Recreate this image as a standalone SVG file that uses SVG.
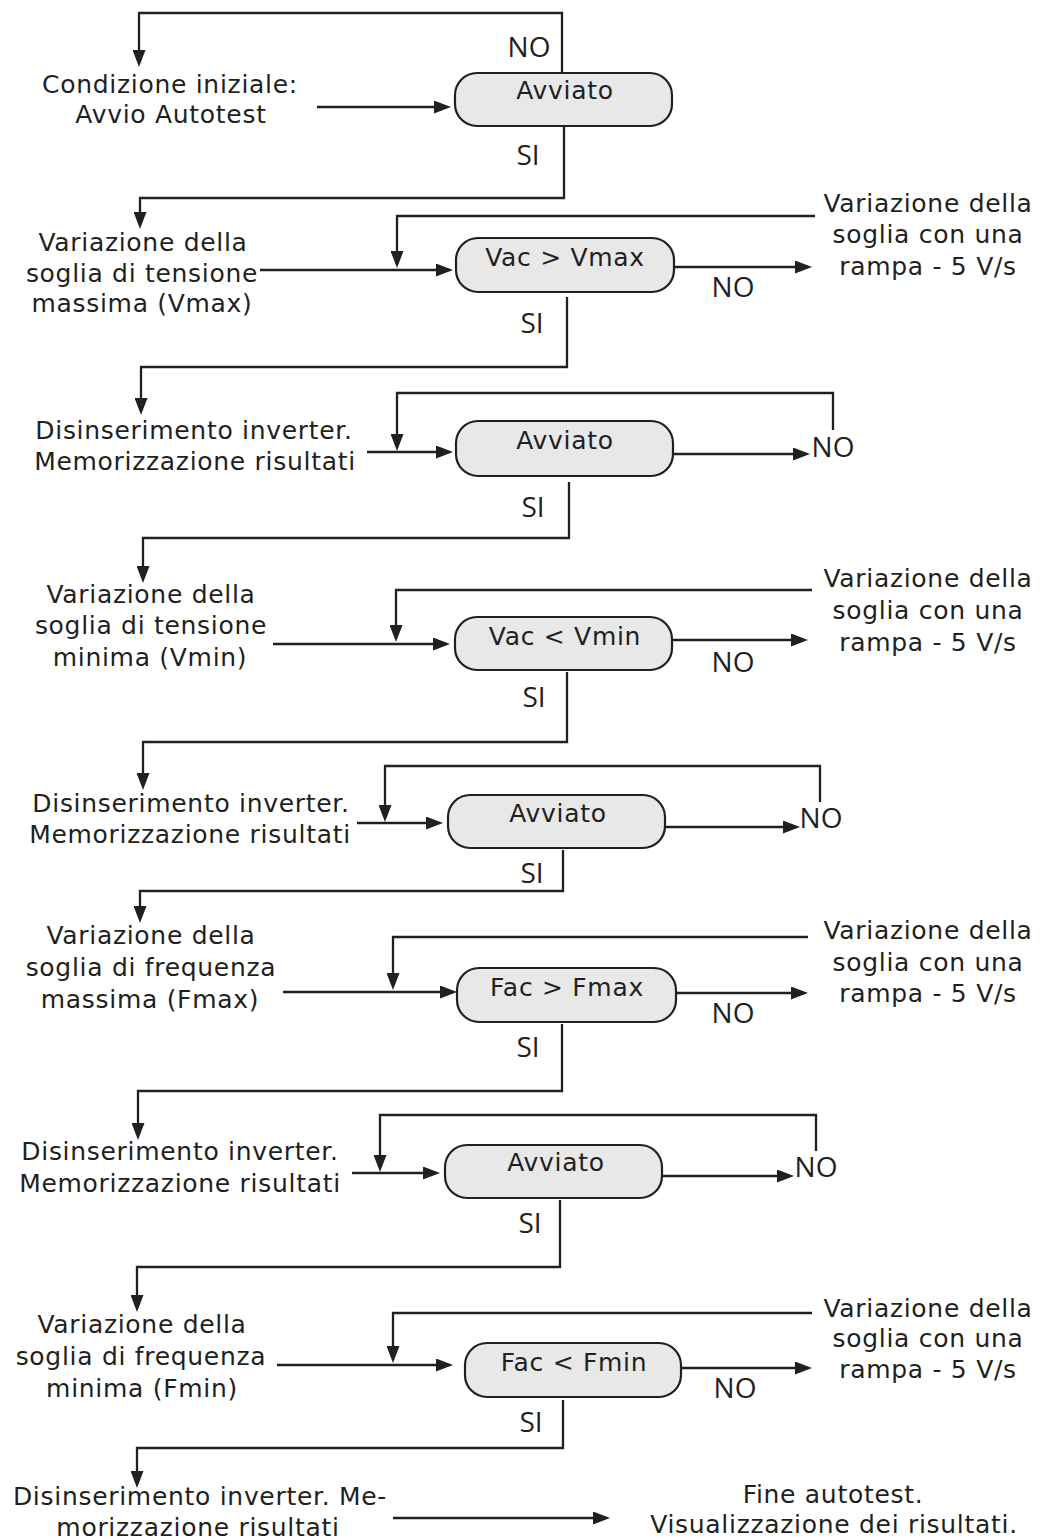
<svg xmlns="http://www.w3.org/2000/svg" width="1042" height="1539" viewBox="0 0 1042 1539">
<style>
.bg{fill:#ffffff}
.t{font-family:"DejaVu Sans","Liberation Sans",sans-serif;font-size:25px;letter-spacing:0.7px;fill:#231f20;text-anchor:middle}
.l{font-family:"Open Sans","Noto Sans","Liberation Sans",sans-serif;font-size:28px;fill:#231f20;text-anchor:middle}
.box{fill:#e8e8e8;stroke:#231f20;stroke-width:2.2}
.c{fill:none;stroke:#231f20;stroke-width:2.3;stroke-linejoin:miter}
.a{marker-end:url(#ah)}
</style>
<defs>
<marker id="ah" markerUnits="userSpaceOnUse" markerWidth="17" markerHeight="13" viewBox="0 0 17 13" refX="13" refY="6.5" orient="auto">
<path d="M0,0 L17,6.5 L0,13 z" fill="#231f20"/>
</marker>
</defs>
<rect class="bg" x="0" y="0" width="1042" height="1539"/>

<g id="connectors">
<!-- section 1 -->
<path class="c a" d="M562,73 V13 H139 V63"/>
<path class="c a" d="M317,107 H447"/>
<path class="c a" d="M564,126 V198 H140 V225"/>
<!-- section 2 -->
<path class="c a" d="M260,270 H449"/>
<path class="c a" d="M815,216 H397 V264"/>
<path class="c a" d="M674,267 H808"/>
<path class="c a" d="M567,297 V367 H141 V411"/>
<!-- section 3 -->
<path class="c a" d="M367,452 H449"/>
<path class="c a" d="M833,430 V393 H397 V447"/>
<path class="c a" d="M673,454 H806"/>
<path class="c a" d="M569,482 V538 H143 V579"/>
<!-- section 4 -->
<path class="c a" d="M273,644 H446"/>
<path class="c a" d="M812,590 H396 V638"/>
<path class="c a" d="M672,640 H804"/>
<path class="c a" d="M567,672 V742 H143 V786"/>
<!-- section 5 -->
<path class="c a" d="M357,823 H439"/>
<path class="c a" d="M820,802 V766 H385 V818"/>
<path class="c a" d="M665,827 H796"/>
<path class="c a" d="M563,850 V891 H140 V919"/>
<!-- section 6 -->
<path class="c a" d="M283,992 H453"/>
<path class="c a" d="M808,937 H393 V986"/>
<path class="c a" d="M676,993 H804"/>
<path class="c a" d="M562,1024 V1091 H138 V1136"/>
<!-- section 7 -->
<path class="c a" d="M352,1173 H436"/>
<path class="c a" d="M816,1151 V1115 H380 V1168"/>
<path class="c a" d="M662,1176 H790"/>
<path class="c a" d="M560,1200 V1267 H137 V1308"/>
<!-- section 8 -->
<path class="c a" d="M277,1365 H449"/>
<path class="c a" d="M812,1313 H393 V1359"/>
<path class="c a" d="M681,1368 H808"/>
<path class="c a" d="M563,1400 V1448 H137 V1484"/>
<!-- section 9 -->
<path class="c a" d="M393,1518 H606"/>
</g>

<g id="labels">
<text class="l" x="529" y="57">NO</text>
<text class="l" x="528" y="165">SI</text>
<text class="l" x="733" y="297">NO</text>
<text class="l" x="532" y="333">SI</text>
<text class="l" x="833" y="457">NO</text>
<text class="l" x="533" y="517">SI</text>
<text class="l" x="733" y="672">NO</text>
<text class="l" x="534" y="707">SI</text>
<text class="l" x="821" y="828">NO</text>
<text class="l" x="532" y="883">SI</text>
<text class="l" x="733" y="1023">NO</text>
<text class="l" x="528" y="1057">SI</text>
<text class="l" x="816" y="1177">NO</text>
<text class="l" x="530" y="1233">SI</text>
<text class="l" x="735" y="1398">NO</text>
<text class="l" x="531" y="1432">SI</text>
</g>

<g id="start">
<text class="t" x="170" y="93">Condizione iniziale:</text>
<text class="t" x="171" y="123">Avvio Autotest</text>
</g>
<g id="check1">
<rect class="box" x="455" y="73" width="217" height="53" rx="22" ry="22"/>
<text class="t" x="565" y="99">Avviato</text>
</g>

<g id="step-vmax">
<text class="t" x="143" y="251">Variazione della</text>
<text class="t" x="142" y="282">soglia di tensione</text>
<text class="t" x="142" y="312">massima (Vmax)</text>
</g>
<g id="check-vmax">
<rect class="box" x="456" y="238" width="218" height="54" rx="22" ry="22"/>
<text class="t" x="565" y="266">Vac &gt; Vmax</text>
</g>
<g id="ramp1">
<text class="t" x="928" y="212">Variazione della</text>
<text class="t" x="928" y="243">soglia con una</text>
<text class="t" x="928" y="275">rampa - 5 V/s</text>
</g>

<g id="disc1">
<text class="t" x="194" y="439">Disinserimento inverter.</text>
<text class="t" x="195" y="470">Memorizzazione risultati</text>
</g>
<g id="check2">
<rect class="box" x="456" y="421" width="217" height="55" rx="22" ry="22"/>
<text class="t" x="565" y="449">Avviato</text>
</g>

<g id="step-vmin">
<text class="t" x="151" y="603">Variazione della</text>
<text class="t" x="151" y="634">soglia di tensione</text>
<text class="t" x="150" y="666">minima (Vmin)</text>
</g>
<g id="check-vmin">
<rect class="box" x="455" y="617" width="217" height="53" rx="22" ry="22"/>
<text class="t" x="565" y="645">Vac &lt; Vmin</text>
</g>
<g id="ramp2">
<text class="t" x="928" y="587">Variazione della</text>
<text class="t" x="928" y="619">soglia con una</text>
<text class="t" x="928" y="651">rampa - 5 V/s</text>
</g>

<g id="disc2">
<text class="t" x="191" y="812">Disinserimento inverter.</text>
<text class="t" x="190" y="843">Memorizzazione risultati</text>
</g>
<g id="check3">
<rect class="box" x="448" y="795" width="217" height="53" rx="22" ry="22"/>
<text class="t" x="558" y="822">Avviato</text>
</g>

<g id="step-fmax">
<text class="t" x="151" y="944">Variazione della</text>
<text class="t" x="151" y="976">soglia di frequenza</text>
<text class="t" x="150" y="1008">massima (Fmax)</text>
</g>
<g id="check-fmax">
<rect class="box" x="457" y="968" width="219" height="54" rx="22" ry="22"/>
<text class="t" x="567" y="996">Fac &gt; Fmax</text>
</g>
<g id="ramp3">
<text class="t" x="928" y="939">Variazione della</text>
<text class="t" x="928" y="971">soglia con una</text>
<text class="t" x="928" y="1002">rampa - 5 V/s</text>
</g>

<g id="disc3">
<text class="t" x="180" y="1160">Disinserimento inverter.</text>
<text class="t" x="180" y="1192">Memorizzazione risultati</text>
</g>
<g id="check4">
<rect class="box" x="445" y="1145" width="217" height="53" rx="22" ry="22"/>
<text class="t" x="556" y="1171">Avviato</text>
</g>

<g id="step-fmin">
<text class="t" x="142" y="1333">Variazione della</text>
<text class="t" x="141" y="1365">soglia di frequenza</text>
<text class="t" x="142" y="1397">minima (Fmin)</text>
</g>
<g id="check-fmin">
<rect class="box" x="465" y="1343" width="216" height="54" rx="22" ry="22"/>
<text class="t" x="574" y="1371">Fac &lt; Fmin</text>
</g>
<g id="ramp4">
<text class="t" x="928" y="1317">Variazione della</text>
<text class="t" x="928" y="1347">soglia con una</text>
<text class="t" x="928" y="1378">rampa - 5 V/s</text>
</g>

<g id="disc4">
<text class="t" x="200" y="1505">Disinserimento inverter. Me-</text>
<text class="t" x="198" y="1536">morizzazione risultati</text>
</g>
<g id="end">
<text class="t" x="833" y="1503">Fine autotest.</text>
<text class="t" x="834" y="1533">Visualizzazione dei risultati.</text>
</g>
</svg>
